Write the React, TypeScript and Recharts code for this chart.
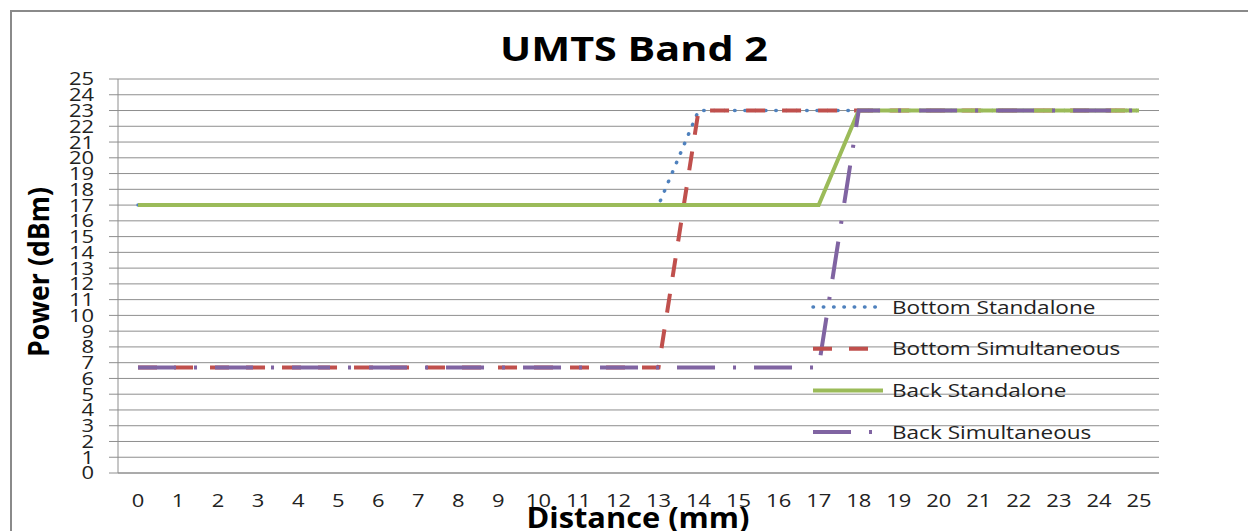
import React from 'react';
import { LineChart, Line, XAxis, YAxis, CartesianGrid } from 'recharts';

const distances = [0, 1, 2, 3, 4, 5, 6, 7, 8, 9, 10, 11, 12, 13, 14, 15, 16, 17, 18, 19, 20, 21, 22, 23, 24, 25];
const bottomStandalone = [17, 17, 17, 17, 17, 17, 17, 17, 17, 17, 17, 17, 17, 17, 23, 23, 23, 23, 23, 23, 23, 23, 23, 23, 23, 23];
const bottomSimultaneous = [6.7, 6.7, 6.7, 6.7, 6.7, 6.7, 6.7, 6.7, 6.7, 6.7, 6.7, 6.7, 6.7, 6.7, 23, 23, 23, 23, 23, 23, 23, 23, 23, 23, 23, 23];
const backStandalone = [17, 17, 17, 17, 17, 17, 17, 17, 17, 17, 17, 17, 17, 17, 17, 17, 17, 17, 23, 23, 23, 23, 23, 23, 23, 23];
const backSimultaneous = [6.7, 6.7, 6.7, 6.7, 6.7, 6.7, 6.7, 6.7, 6.7, 6.7, 6.7, 6.7, 6.7, 6.7, 6.7, 6.7, 6.7, 6.7, 23, 23, 23, 23, 23, 23, 23, 23];
const powerTicks = [0, 1, 2, 3, 4, 5, 6, 7, 8, 9, 10, 11, 12, 13, 14, 15, 16, 17, 18, 19, 20, 21, 22, 23, 24, 25];

const data = distances.map((d, i) => ({
  distance: d,
  bottomStandalone: bottomStandalone[i],
  bottomSimultaneous: bottomSimultaneous[i],
  backStandalone: backStandalone[i],
  backSimultaneous: backSimultaneous[i],
}));

const series = [
  { key: 'bottomStandalone', name: 'Bottom Standalone', color: '#4F81BD', dash: '0.5 9.8', width: 3.5, cap: 'round' },
  { key: 'bottomSimultaneous', name: 'Bottom Simultaneous', color: '#C0504D', dash: '19 17', width: 4, cap: 'butt' },
  { key: 'backStandalone', name: 'Back Standalone', color: '#9BBB59', dash: undefined, width: 4, cap: 'butt' },
  { key: 'backSimultaneous', name: 'Back Simultaneous', color: '#8064A2', dash: '38 18 3 18', width: 4, cap: 'butt' },
];

const FONT = '"Open Sans", sans-serif';
const GRID = '#8E8E8E';
const STRETCH = 1.22; // the original is stretched sideways

const XTick = (props: any) => {
  const { x, y, payload } = props;
  return (
    <text transform={`translate(${x},${y}) scale(${STRETCH},1)`} textAnchor="middle" dy="0.71em"
      fontFamily={FONT} fontSize={18} fill="#222">{payload.value}</text>
  );
};

const YTick = (props: any) => {
  const { x, y, payload } = props;
  return (
    <text transform={`translate(${x},${y}) scale(${STRETCH},1)`} textAnchor="end" dy="0.36em"
      fontFamily={FONT} fontSize={18} fill="#222">{payload.value}</text>
  );
};

const LegendBox = () => (
  <svg width={360} height={170} style={{ position: 'absolute', left: 805, top: 286, overflow: 'visible' }}>
    {series.map((s, i) => {
      const cy = 21 + i * 41.7;
      return (
        <g key={s.key}>
          <line x1={8} y1={cy} x2={78} y2={cy} stroke={s.color} strokeWidth={s.width}
            strokeDasharray={s.dash} strokeLinecap={s.cap as any} />
          <text transform={`translate(87,${cy}) scale(${STRETCH},1)`} dy="0.36em"
            fontFamily={FONT} fontSize={18.5} fill="#222">{s.name}</text>
        </g>
      );
    })}
  </svg>
);

export default function App() {
  return (
    <div style={{ position: 'absolute', left: 0, top: 0, width: 1248, height: 531, background: '#fff', overflow: 'hidden' }}>
      <div style={{ position: 'absolute', left: 10, top: 10, width: 1240, height: 530, borderLeft: '2px solid #8a8a8a', borderTop: '2px solid #8a8a8a' }} />
      <div style={{ position: 'absolute', left: 0, top: 0 }}>
        <LineChart width={1248} height={531} data={data} margin={{ top: 79, right: 89, bottom: 28, left: 0 }}>
          <CartesianGrid vertical={false} stroke={GRID} strokeWidth={1} />
          <XAxis dataKey="distance" type="number" domain={[-0.5, 25.5]} ticks={distances} interval={0}
            height={30} tickLine={false} tickSize={10} tickMargin={11} axisLine={{ stroke: GRID }}
            tick={<XTick />} />
          <YAxis type="number" domain={[0, 25]} ticks={powerTicks} interval={0} width={118}
            tickSize={9} tickMargin={15} axisLine={{ stroke: GRID }} tickLine={{ stroke: GRID }}
            tick={<YTick />} />
          {series.map((s) => (
            <Line key={s.key} type="linear" dataKey={s.key} name={s.name} stroke={s.color}
              strokeWidth={s.width} strokeDasharray={s.dash} strokeLinecap={s.cap as any}
              dot={false} activeDot={false} isAnimationActive={false} />
          ))}
        </LineChart>
      </div>
      <LegendBox />
      <svg width={1248} height={531} style={{ position: 'absolute', left: 0, top: 0, pointerEvents: 'none' }}>
        <text x={634} y={61} textAnchor="middle" fontFamily={FONT} fontWeight={700} fontSize={34}
          textLength={268} lengthAdjust="spacingAndGlyphs" fill="#000">UMTS Band 2</text>
        <text x={49} y={272} transform="rotate(-90 49 272)" textAnchor="middle" fontFamily={FONT} fontWeight={700}
          fontSize={28} textLength={170} lengthAdjust="spacingAndGlyphs" fill="#000">Power (dBm)</text>
        <text x={638} y={528} textAnchor="middle" fontFamily={FONT} fontWeight={700} fontSize={28}
          textLength={223} lengthAdjust="spacingAndGlyphs" fill="#000">Distance (mm)</text>
      </svg>
    </div>
  );
}
